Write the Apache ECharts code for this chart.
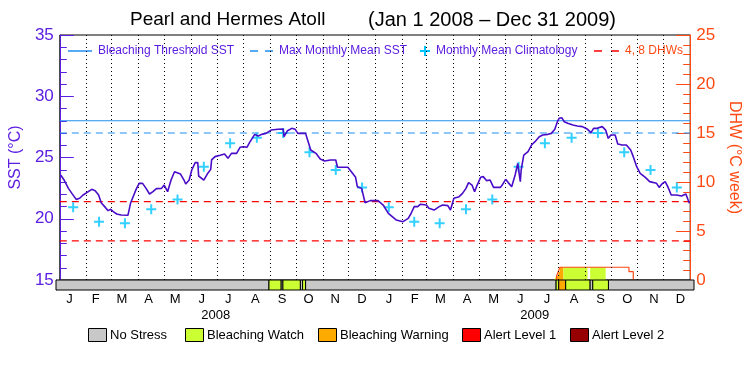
<!DOCTYPE html>
<html><head><meta charset="utf-8">
<script src="https://cdn.jsdelivr.net/npm/echarts@6/dist/echarts.min.js"></script>
<style>html,body{margin:0;padding:0;background:#fff}#c{width:750px;height:375px}</style>
</head><body><div id="c"></div>
<script>
// ---- data (days counted from Jan 1 2008) ----
const sstDay = [1,5,10,14,19,23,27,33,37,41,45,48,52,56,59,62,66,71,79,82,85,89,92,96,100,104,108,112,118,121,125,129,133,135,140,144,146,150,153,157,160,161,167,171,175,176,180,186,191,195,199,205,209,213,217,220,226,230,234,239,245,253,259,260,264,269,273,276,281,285,288,291,297,302,307,314,320,322,329,334,339,343,345,350,354,360,369,375,381,
383,390,398,404,407,411,415,418,425,428,434,440,444,450,453,457,463,467,471,474,478,481,484,488,491,495,499,503,511,513,517,520,524,528,531,534,535,538,543,547,551,556,560,566,570,574,577,579,582,585,589,595,600,606,612,616,619,623,629,633,636,639,644,647,652,657,662,665,669,673,679,684,692,695,699,702,705,709,715,721,726,728,730];
const sstVal = [23.57,23.16,22.48,22.07,21.58,21.67,21.94,22.21,22.40,22.29,21.94,21.31,20.99,20.66,20.77,20.58,20.39,20.31,20.28,21.26,21.80,22.48,22.89,22.89,22.48,22.02,22.21,22.46,22.48,22.75,22.21,23.16,23.84,23.92,23.65,23.16,22.84,23.16,23.98,24.58,24.58,23.49,23.16,23.65,24.03,24.80,25.07,25.18,25.29,24.93,25.34,25.34,25.83,25.88,25.83,26.21,26.89,26.75,26.89,26.97,27.24,27.30,27.33,26.70,27.19,27.38,27.30,26.97,26.97,26.97,26.29,25.61,25.34,24.88,24.71,24.80,24.80,24.20,24.20,24.20,23.76,23.38,22.62,22.48,21.31,21.48,21.48,21.12,20.44,
20.31,19.90,19.76,20.03,20.39,20.99,20.99,21.18,21.12,20.85,20.71,20.99,21.12,21.07,20.71,21.67,21.80,22.07,22.48,22.95,22.75,22.21,22.75,23.38,23.44,23.11,23.16,22.56,22.56,22.75,23.22,22.95,22.62,23.57,24.52,23.03,23.98,25.20,25.48,26.02,26.29,26.70,26.84,26.89,26.97,27.30,27.92,28.20,28.25,27.92,27.79,27.65,27.57,27.52,27.30,27.03,27.38,27.38,27.52,27.24,26.56,26.84,26.84,26.10,26.02,26.02,25.61,25.07,24.25,23.71,23.38,23.03,22.89,22.56,22.89,23.03,22.62,21.94,21.94,21.86,22.02,21.94,21.26];
const monthStart = [0,31,60,91,121,152,182,213,244,274,305,335,366,397,425,456,486,517,547,578,609,639,670,700,731];
const monthLetters = ['J','F','M','A','M','J','J','A','S','O','N','D'];
const yearLabels = ['2008','2009'];
const climatology = [20.93,19.76,19.63,20.77,21.58,24.25,26.16,26.62,27.0,25.42,23.98,22.56];
const bleachingThreshold = 28.0;
const maxMonthlyMean = 27.0;
const dhwLevels = [4, 8];
const dhwDay = [576,576,578,578,580,580,660,660,665,665];
const dhwVal = [0,0.4,0.4,0.85,0.85,1.3,1.3,0.85,0.85,0];
const stressStart = [0,244,258,260,280,282.5,286,573,576,584,612,615,633];
const stressEnd   = [244,258,260,280,282.5,286,573,576,584,612,615,633,731];
const stressLevel = [0,1,0,1,0,1,0,1,2,1,0,1,0];
const stressNames = ['No Stress','Bleaching Watch','Bleaching Warning','Alert Level 1','Alert Level 2'];
const stressColors = ['#c8c8c8','#ccff33','#ffaa00','#ff0000','#960000'];

// ---- styles ----
const FONT = 'Liberation Sans';
const PURPLE = '#5c1ee0', LINE = '#4a0cc8', BLUE = '#1e90f0', CYAN = '#00c4ff', RED = '#ff0000', ORANGE = '#ff4a14';
const XMAX = monthStart[monthStart.length - 1];

const monthMid = [], monthLab = [];
for (let i = 0; i < monthStart.length - 1; i++) {
  monthMid.push((monthStart[i] + monthStart[i + 1]) / 2);
  monthLab.push(monthLetters[i % 12]);
}
const yearMid = [(monthStart[0] + monthStart[12]) / 2, (monthStart[12] + monthStart[24]) / 2];
const climData = monthMid.map((m, i) => [m, climatology[i % 12]]);
const sstData = sstDay.map((d, i) => [d, sstVal[i]]);
const dhwData = dhwDay.map((d, i) => [d, dhwVal[i]]);
const stressData = stressStart.map((s, i) => [s, stressEnd[i], i]);
const stressFillData = stressData.filter(d => stressLevel[d[2]] > 0);

function dhwAt(x) {
  for (let i = 0; i < dhwDay.length - 1; i++) {
    const a = dhwDay[i], b = dhwDay[i + 1];
    if (b > a && x >= a && x <= b) return dhwVal[i] + (dhwVal[i + 1] - dhwVal[i]) * (x - a) / (b - a);
  }
  return 0;
}

const plus = 'path://M-0.2,-1L0.2,-1L0.2,-0.2L1,-0.2L1,0.2L0.2,0.2L0.2,1L-0.2,1L-0.2,0.2L-1,0.2L-1,-0.2L-0.2,-0.2Z';

const chart = echarts.init(document.getElementById('c'), null, {renderer: 'canvas'});

const g = [];
g.push({type: 'text', x: 130, y: 20, style: {text: 'Pearl and Hermes Atoll', fill: '#000', font: '19px "' + FONT + '"', textVerticalAlign: 'middle'}});
g.push({type: 'text', x: 368, y: 20, style: {text: '(Jan 1 2008 \u2013 Dec 31 2009)', fill: '#000', font: '20px "' + FONT + '"', textVerticalAlign: 'middle'}});
const ly = 51;
g.push({type: 'line', shape: {x1: 68, y1: ly, x2: 92, y2: ly}, style: {stroke: BLUE, lineWidth: 1.5}});
g.push({type: 'text', x: 98, y: ly, style: {text: 'Bleaching Threshold SST', fill: PURPLE, font: '12px "' + FONT + '"', textVerticalAlign: 'middle'}});
g.push({type: 'line', shape: {x1: 250, y1: ly, x2: 273, y2: ly}, style: {stroke: BLUE, lineWidth: 1.5, lineDash: [8, 7]}});
g.push({type: 'text', x: 279, y: ly, style: {text: 'Max Monthly Mean SST', fill: PURPLE, font: '12px "' + FONT + '"', textVerticalAlign: 'middle'}});
g.push({type: 'line', shape: {x1: 420, y1: ly, x2: 430, y2: ly}, style: {stroke: CYAN, lineWidth: 2}});
g.push({type: 'line', shape: {x1: 425, y1: ly - 5, x2: 425, y2: ly + 5}, style: {stroke: CYAN, lineWidth: 2}});
g.push({type: 'text', x: 436, y: ly, style: {text: 'Monthly Mean Climatology', fill: PURPLE, font: '12px "' + FONT + '"', textVerticalAlign: 'middle'}});
g.push({type: 'line', shape: {x1: 594, y1: ly, x2: 619, y2: ly}, style: {stroke: RED, lineWidth: 1.5, lineDash: [8, 9]}});
g.push({type: 'text', x: 625, y: ly, style: {text: '4, 8 DHWs', fill: ORANGE, font: '12px "' + FONT + '"', textVerticalAlign: 'middle'}});
const bx = [88, 185, 318, 462, 570];
stressNames.forEach((n, i) => {
  g.push({type: 'rect', shape: {x: bx[i] + 0.5, y: 328.5, width: 18, height: 13}, style: {fill: stressColors[i], stroke: '#000', lineWidth: 1}});
  g.push({type: 'text', x: bx[i] + 22, y: 335, style: {text: n, fill: '#000', font: '13px "' + FONT + '"', textVerticalAlign: 'middle'}});
});

const hline = (v, yIdx, color, dash) => ({
  type: 'line', xAxisIndex: 0, yAxisIndex: yIdx, data: [[0, v], [XMAX, v]], symbol: 'none', silent: true, z: 3,
  lineStyle: {color: color, width: 1.2, type: dash}, itemStyle: {color: color}
});

const option = {
  animation: false,
  backgroundColor: '#fff',
  textStyle: {fontFamily: FONT},
  grid: [
    {left: 56, right: 56, top: 35, height: 245, show: true, borderColor: '#000', borderWidth: 1},
    {left: 56, right: 56, top: 280, height: 10, show: false}
  ],
  xAxis: [
    {gridIndex: 0, type: 'value', min: 0, max: XMAX, show: false},
    {gridIndex: 1, type: 'value', min: 0, max: XMAX, position: 'bottom',
      axisLine: {show: false}, axisTick: {show: false}, splitLine: {show: false},
      axisLabel: {customValues: monthMid, formatter: v => monthLab[monthMid.indexOf(v)] || '', margin: 3, color: '#000', fontSize: 13, fontFamily: FONT}},
    {gridIndex: 1, type: 'value', min: 0, max: XMAX, position: 'bottom', offset: 16,
      axisLine: {show: false}, axisTick: {show: false}, splitLine: {show: false},
      axisLabel: {customValues: yearMid, formatter: v => yearLabels[yearMid.indexOf(v)] || '', margin: 3, color: '#000', fontSize: 13, fontFamily: FONT}}
  ],
  yAxis: [
    {gridIndex: 0, type: 'value', min: 15, max: 35, interval: 5, position: 'left',
      name: 'SST (\u00b0C)', nameLocation: 'middle', nameGap: 31,
      nameTextStyle: {color: PURPLE, fontSize: 16, fontFamily: FONT},
      axisLine: {show: true, lineStyle: {color: PURPLE, width: 1}},
      axisTick: {show: true, inside: true, length: 14, lineStyle: {color: PURPLE}},
      minorTick: {show: true, splitNumber: 5, length: 7, lineStyle: {color: PURPLE}},
      axisLabel: {color: PURPLE, fontSize: 17, margin: 6, fontFamily: FONT},
      splitLine: {show: false}},
    {gridIndex: 0, type: 'value', min: 0, max: 25, interval: 5, position: 'right',
      name: 'DHW (\u00b0C week)', nameLocation: 'middle', nameGap: 31, nameRotate: -90,
      nameTextStyle: {color: ORANGE, fontSize: 16, fontFamily: FONT},
      axisLine: {show: true, lineStyle: {color: ORANGE, width: 1}},
      axisTick: {show: true, inside: true, length: 14, lineStyle: {color: ORANGE}},
      minorTick: {show: true, splitNumber: 5, length: 7, lineStyle: {color: ORANGE}},
      axisLabel: {color: ORANGE, fontSize: 17, margin: 6, fontFamily: FONT},
      splitLine: {show: false}},
    {gridIndex: 1, type: 'value', min: 0, max: 1, position: 'left',
      axisLine: {show: true, lineStyle: {color: PURPLE}}, axisTick: {show: false}, axisLabel: {show: false}, splitLine: {show: false}}
  ],
  series: [
    {type: 'custom', xAxisIndex: 0, yAxisIndex: 1, data: stressFillData, encode: {x: [0, 1]}, z: 1, clip: false,
      renderItem: (params, api) => {
        const s = api.value(0), e = api.value(1), idx = api.value(2);
        const pts = [[s, 0], [s, dhwAt(s)]];
        for (let k = 0; k < dhwDay.length; k++) if (dhwDay[k] > s && dhwDay[k] < e) pts.push([dhwDay[k], dhwVal[k]]);
        pts.push([e, dhwAt(e)]); pts.push([e, 0]);
        return {type: 'polygon', shape: {points: pts.map(p => api.coord(p))}, style: {fill: stressColors[stressLevel[idx]]}};
      }},
    {type: 'line', xAxisIndex: 0, yAxisIndex: 0, data: [], z: 2,
      markLine: {silent: true, symbol: 'none', label: {show: false},
        lineStyle: {color: '#000', type: [1, 3], width: 1},
        data: monthStart.slice(1, -1).map(m => ({xAxis: m}))}},
    hline(bleachingThreshold, 0, BLUE, 'solid'),
    hline(maxMonthlyMean, 0, BLUE, [7, 5]),
    hline(dhwLevels[0], 1, RED, [7, 5]),
    hline(dhwLevels[1], 1, RED, [7, 5]),
    {type: 'line', xAxisIndex: 0, yAxisIndex: 1, data: dhwData, z: 4, symbol: 'none',
      lineStyle: {color: ORANGE, width: 1.2}, itemStyle: {color: ORANGE}},
    {type: 'scatter', xAxisIndex: 0, yAxisIndex: 0, data: climData, z: 5,
      symbol: plus, symbolSize: 10, itemStyle: {color: CYAN}},
    {type: 'line', xAxisIndex: 0, yAxisIndex: 0, data: sstData, z: 6, symbol: 'none',
      lineStyle: {color: LINE, width: 1.6}, itemStyle: {color: LINE}},
    {type: 'custom', xAxisIndex: 1, yAxisIndex: 2, data: stressData, encode: {x: [0, 1]}, z: 7, clip: false,
      renderItem: (params, api) => {
        const p0 = api.coord([api.value(0), 1]), p1 = api.coord([api.value(1), 0]);
        return {type: 'rect', shape: {x: p0[0], y: p0[1], width: p1[0] - p0[0], height: p1[1] - p0[1]},
          style: {fill: stressColors[stressLevel[api.value(2)]], stroke: '#000', lineWidth: 1}};
      }}
  ],
  graphic: g
};
chart.setOption(option);
</script></body></html>
